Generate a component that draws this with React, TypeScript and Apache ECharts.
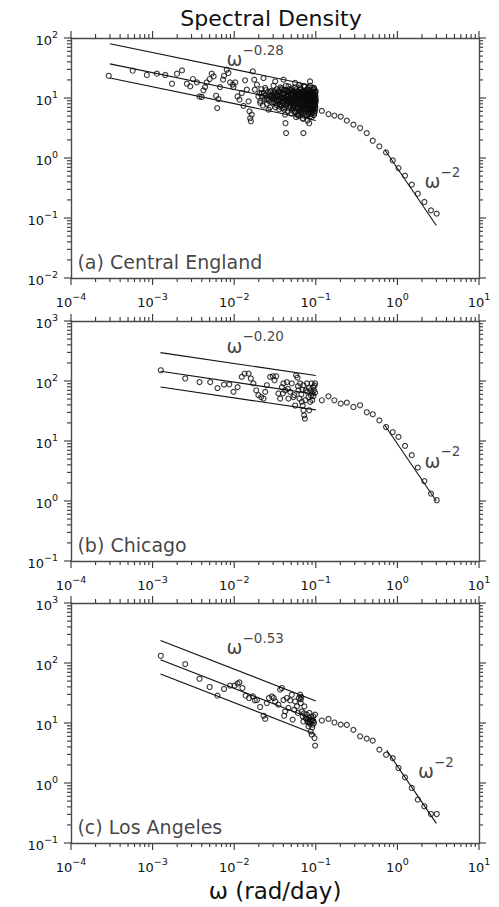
import React, { useEffect, useRef } from 'react';
import * as echarts from 'echarts';

// ---------- data ----------
const xRange = [1e-4, 10];
const yRangeA = [1e-2, 1e2];
const yRangeB = [1e-1, 1e3];
const yRangeC = [1e-1, 1e3];

const panelTitles = ['(a) Central England', '(b) Chicago', '(c) Los Angeles'];
const fitExponents = ['−0.28', '−0.20', '−0.53'];

// Central England: [omega, S]
const englandLowFreq = [
  [2.9e-4, 23.5], [5.7e-4, 28.5], [8.5e-4, 24.2], [1.13e-3, 25.4], [1.43e-3, 24.2], [1.73e-3, 17.3],
  [1.99e-3, 25.4], [2.29e-3, 28.8], [2.63e-3, 17.3], [2.89e-3, 15.6], [3.12e-3, 20.7], [3.49e-3, 18.2],
  [3.76e-3, 10.6], [4.0e-3, 10.4], [4.2e-3, 13.4], [4.4e-3, 15.2], [4.6e-3, 18.2], [5.0e-3, 20.7],
  [5.3e-3, 25.4], [5.6e-3, 22.9], [6.0e-3, 10.9], [6.4e-3, 9.6], [6.2e-3, 6.8], [6.7e-3, 15.2],
  [7.3e-3, 20.2], [7.5e-3, 23.5], [8.1e-3, 29.6], [8.5e-3, 26.1], [8.9e-3, 18.2], [9.6e-3, 16.7],
  [9.8e-3, 15.2], [0.0103, 18.2], [0.011, 10.6], [0.0116, 9.4], [0.0124, 12.1], [0.013, 7.4],
  [0.0136, 19.7], [0.0143, 13.8], [0.015, 8.8], [0.0154, 6.0], [0.0157, 4.6], [0.016, 4.1],
  [0.0164, 5.3], [0.0169, 27.7], [0.0176, 20.2], [0.0179, 13.8], [0.019, 16.7], [0.0198, 10.6],
  [0.0208, 8.3], [0.0218, 12.1], [0.0229, 21.5], [0.024, 14.7], [0.0251, 9.4], [0.0263, 6.4],
  [0.0276, 12.9], [0.029, 10.6], [0.0303, 16], [0.0318, 18.9], [0.0333, 11.4], [0.035, 9.4],
  [0.0366, 7.7], [0.0384, 13.8], [0.0402, 20.2], [0.041, 6.4], [0.042, 5.3], [0.0425, 3.8],
  [0.0432, 2.6], [0.044, 10.6], [0.0462, 15.6], [0.0485, 9.4], [0.0508, 12.1], [0.0532, 6.8],
  [0.0558, 17.8], [0.0586, 8.3], [0.0613, 5.3], [0.0643, 13.8], [0.0674, 9.2], [0.069, 4.6],
  [0.0705, 2.6], [0.072, 15.6], [0.0737, 7.3], [0.0776, 11.4], [0.0813, 5.3], [0.083, 3.8],
  [0.0851, 18.9], [0.089, 9.4], [0.093, 6.4], [0.095, 14.7], [0.098, 11.4], [0.098, 9.4], [0.098, 7.7],
];
const englandCluster = [
  [0.0205, 12], [0.021, 9], [0.0215, 14], [0.022, 10.5], [0.0225, 7.5], [0.023, 12], [0.0235, 9.5],
  [0.024, 11], [0.0245, 13.5], [0.025, 8], [0.0255, 10], [0.026, 12.5], [0.0265, 9], [0.027, 11],
  [0.0275, 7], [0.028, 10.5], [0.0285, 13], [0.029, 8.5], [0.0295, 10],
  [0.030, 11], [0.0305, 8.5], [0.031, 13], [0.0315, 10], [0.032, 7], [0.0325, 12], [0.033, 9],
  [0.0335, 14], [0.034, 10.5], [0.0345, 8], [0.035, 12.5], [0.0355, 6.5], [0.036, 11], [0.0365, 9.5],
  [0.037, 15], [0.0375, 10], [0.038, 7.5], [0.0385, 12], [0.039, 8.8], [0.0395, 11.5], [0.040, 9],
  [0.0405, 13.5], [0.041, 10], [0.0415, 7], [0.042, 12], [0.0425, 9.5], [0.043, 16], [0.0435, 11],
  [0.044, 8], [0.0445, 10.5], [0.045, 13], [0.0455, 6], [0.046, 9], [0.0465, 11.5], [0.047, 8.5],
  [0.0475, 14], [0.048, 10], [0.0485, 7.5], [0.049, 12], [0.0495, 9], [0.050, 5.5], [0.0505, 11],
  [0.051, 8], [0.0515, 13], [0.052, 10], [0.0525, 6.8], [0.053, 9.5], [0.0535, 12.5], [0.054, 7.5],
  [0.0545, 10.5], [0.055, 8.8], [0.0555, 15], [0.056, 6], [0.0565, 11], [0.057, 9], [0.0575, 4.8],
  [0.058, 12], [0.0585, 8], [0.059, 10], [0.0595, 7], [0.060, 13], [0.0605, 9.5], [0.061, 5],
  [0.0615, 11.5], [0.062, 8.5], [0.0625, 16.5], [0.063, 10], [0.0635, 6.5], [0.064, 12], [0.0645, 9],
  [0.065, 7.8], [0.0655, 14], [0.066, 10.5], [0.0665, 5.8], [0.067, 8.8], [0.0675, 11], [0.068, 6.8],
  [0.0685, 13], [0.069, 9.5], [0.0695, 7.2], [0.070, 4.5], [0.0705, 11.5], [0.071, 8], [0.0715, 10],
  [0.072, 6], [0.0725, 12.5], [0.073, 9], [0.0735, 15.5], [0.074, 7.5], [0.0745, 10.5], [0.075, 5.2],
  [0.0755, 8.5], [0.076, 12], [0.0765, 9.5], [0.077, 6.5], [0.0775, 11], [0.078, 14], [0.0785, 8],
  [0.079, 4.2], [0.0795, 10], [0.080, 7], [0.0805, 12.5], [0.081, 9], [0.0815, 5.5], [0.082, 11],
  [0.0825, 8.2], [0.083, 13.5], [0.0835, 6.2], [0.084, 10], [0.0845, 7.8], [0.085, 16], [0.0855, 9.5],
  [0.086, 5], [0.0865, 11.5], [0.087, 8], [0.0875, 6.5], [0.088, 12], [0.0885, 9], [0.089, 4.8],
  [0.0895, 10.5], [0.090, 7.2], [0.0905, 13], [0.091, 8.5], [0.0915, 5.8], [0.092, 11], [0.0925, 9.5],
  [0.093, 6.8], [0.0935, 12], [0.094, 8], [0.0945, 10], [0.095, 5.2], [0.0955, 14], [0.096, 7.5],
  [0.0965, 9], [0.097, 11.5], [0.0975, 6], [0.098, 8.8], [0.0985, 12.5], [0.099, 7], [0.0995, 10],
  [0.100, 9],
  [0.0302, 9.5], [0.0308, 12], [0.0318, 8.2], [0.0322, 11], [0.0332, 7.6], [0.0338, 10.8], [0.0348, 13],
  [0.0352, 9], [0.0362, 7.2], [0.0368, 12.8], [0.0378, 9.8], [0.0382, 14.5], [0.0392, 6.8], [0.0398, 10.2],
  [0.0408, 8], [0.0412, 11.8], [0.0422, 9.2], [0.0428, 13.5], [0.0438, 7.5], [0.0442, 10.8], [0.0448, 9],
  [0.0452, 8.2], [0.0458, 12.5], [0.0468, 6.8], [0.0472, 10], [0.0478, 8.8], [0.0488, 13.5], [0.0492, 7],
  [0.0498, 10.8], [0.0502, 9.2], [0.0508, 14.5], [0.0512, 6.2], [0.0518, 8.5], [0.0522, 11.8], [0.0528, 9],
  [0.0532, 7.2], [0.0538, 10.2], [0.0542, 13], [0.0548, 5.8], [0.0552, 9.8], [0.0558, 7.8], [0.0562, 12.2],
  [0.0568, 8.6], [0.0572, 10.8], [0.0578, 6.6], [0.0582, 14], [0.0588, 9.2], [0.0592, 11.2], [0.0598, 5.4],
  [0.0602, 8], [0.0608, 10.5], [0.0612, 12.8], [0.0618, 7], [0.0622, 9.6], [0.0628, 6], [0.0632, 11.4],
  [0.0638, 8.4], [0.0642, 15], [0.0648, 7.4], [0.0652, 10.2], [0.0658, 5.6], [0.0662, 12.4], [0.0668, 9],
  [0.0672, 7.6], [0.0678, 10.8], [0.0682, 8.2], [0.0688, 6.2], [0.0692, 11.8], [0.0698, 9.4], [0.0702, 7],
  [0.0708, 13.2], [0.0712, 5.6], [0.0718, 9.8], [0.0722, 8.4], [0.0728, 11], [0.0732, 6.6], [0.0738, 10],
  [0.0742, 12.6], [0.0748, 8], [0.0752, 9.6], [0.0758, 6.4], [0.0762, 10.6], [0.0768, 13.4], [0.0772, 7.6],
  [0.0778, 9.2], [0.0782, 5.2], [0.0788, 11.6], [0.0792, 8.6], [0.0798, 6.8], [0.0802, 10.4], [0.0808, 14.6],
  [0.0812, 7.2], [0.0818, 9.4], [0.0822, 12], [0.0828, 5.8], [0.0832, 8.8], [0.0838, 11], [0.0842, 6.6],
  [0.0848, 9.8], [0.0852, 13], [0.0858, 7.8], [0.0862, 10.2], [0.0868, 6], [0.0872, 12.4], [0.0878, 8.4],
  [0.0882, 9.8], [0.0888, 5.4], [0.0892, 11.2], [0.0898, 7.4], [0.0902, 10], [0.0908, 6.2], [0.0912, 12],
  [0.0918, 8.8], [0.0922, 7], [0.0928, 10.6], [0.0932, 13.8], [0.0938, 6.4], [0.0942, 9.2], [0.0948, 11.6],
  [0.0952, 8], [0.0958, 5.6], [0.0962, 10.4], [0.0968, 12.8], [0.0972, 7.4], [0.0978, 9.6], [0.0982, 6.6],
  [0.0988, 11], [0.0992, 8.4], [0.0998, 13],
];
const englandSmoothed = [
  [0.1186, 6.1], [0.143, 5.4], [0.169, 5.1], [0.202, 4.9], [0.24, 4.2], [0.289, 3.6], [0.349, 3.16],
  [0.421, 2.6], [0.499, 1.94], [0.601, 1.56], [0.726, 1.24], [0.877, 0.91], [1.03, 0.68], [1.24, 0.507],
  [1.5, 0.359], [1.78, 0.254], [2.14, 0.185], [2.58, 0.134], [3.03, 0.118],
];

// Chicago
const chicagoLowFreq = [
  [1.26e-3, 151], [2.51e-3, 110], [3.76e-3, 96], [5.08e-3, 96], [6.24e-3, 76], [7.5e-3, 87], [8.7e-3, 88],
  [9.8e-3, 66], [0.011, 79], [0.0124, 117], [0.0134, 133], [0.015, 133], [0.016, 110], [0.0172, 91],
  [0.0186, 70], [0.0198, 58], [0.0214, 54], [0.0229, 51], [0.024, 66], [0.0251, 85], [0.0276, 117],
  [0.0298, 120], [0.0312, 103], [0.0327, 120], [0.0348, 62], [0.0366, 51], [0.0384, 79], [0.0402, 91],
  [0.0421, 70], [0.0442, 96], [0.0462, 51], [0.0485, 66], [0.0508, 91], [0.0532, 54], [0.0558, 39],
  [0.0574, 124], [0.0596, 114], [0.0613, 70], [0.063, 51], [0.0643, 91], [0.0674, 45], [0.069, 39],
  [0.0705, 32.5], [0.072, 26.8], [0.0735, 23.6], [0.0756, 70], [0.078, 91], [0.0813, 54], [0.083, 32.5],
  [0.0851, 45], [0.0866, 70], [0.089, 91], [0.091, 62], [0.093, 79], [0.095, 70], [0.098, 91], [0.098, 64],
  [0.0545, 58], [0.0605, 82], [0.0665, 60], [0.0685, 72], [0.0745, 48], [0.0795, 66], [0.0875, 57],
  [0.0905, 48], [0.0935, 56], [0.0965, 84], [0.0395, 62], [0.0455, 74], [0.0705, 85], [0.0825, 76],
];
const chicagoSmoothed = [
  [0.1186, 47.7], [0.143, 55.6], [0.169, 47.7], [0.202, 42], [0.24, 43.6], [0.289, 36.9], [0.349, 39.4],
  [0.421, 30.1], [0.499, 27.9], [0.601, 22.1], [0.726, 17.1], [0.877, 14.1], [1.03, 11.7], [1.24, 8.3],
  [1.5, 5.8], [1.78, 3.6], [2.14, 2.15], [2.58, 1.33], [3.03, 1.03],
];

// Los Angeles
const laLowFreq = [
  [1.26e-3, 132], [2.51e-3, 96], [3.76e-3, 54.7], [5.0e-3, 39.8], [6.24e-3, 28.5], [7.5e-3, 36.9],
  [8.9e-3, 41.9], [0.0101, 41.9], [0.011, 45.2], [0.0116, 47.5], [0.0126, 38.3], [0.0138, 28.5],
  [0.0152, 26.1], [0.0169, 27.7], [0.0179, 23.8], [0.019, 24.2], [0.0208, 18.5], [0.0229, 13.2],
  [0.024, 11.7], [0.0251, 21.5], [0.0267, 26.1], [0.029, 27.7], [0.0305, 26.1], [0.0318, 22.9],
  [0.0348, 20.2], [0.0366, 35.9], [0.0384, 38.3], [0.0402, 24.2], [0.041, 13.2], [0.0421, 15.6],
  [0.0442, 26.1], [0.0462, 17.8], [0.0485, 23.8], [0.0508, 29.6], [0.052, 11.4], [0.0545, 16.7],
  [0.0558, 22.9], [0.0586, 18.9], [0.0603, 14.7], [0.0622, 26.1], [0.0643, 29.6], [0.0655, 21.5],
  [0.0674, 15.6], [0.069, 12.9], [0.0705, 10.6], [0.0725, 18.9], [0.075, 12.1], [0.0776, 13.8],
  [0.079, 10.6], [0.0813, 8.8], [0.083, 12.1], [0.0851, 9.7], [0.0866, 7.2], [0.089, 6.4],
  [0.0905, 11.4], [0.093, 12.9], [0.095, 10], [0.0965, 5.6], [0.098, 4.2], [0.098, 13.8],
  [0.0905, 8.5], [0.0835, 14.7], [0.0795, 11.5], [0.0845, 10.5], [0.0875, 12.8], [0.0915, 9.4],
  [0.0885, 11], [0.0935, 10.8], [0.0765, 11.8], [0.0815, 10.2], [0.0665, 27], [0.0655, 25], [0.0715, 14.5],
];
const laSmoothed = [
  [0.1186, 11.0], [0.143, 11.7], [0.169, 10.2], [0.202, 9.4], [0.24, 9.3], [0.289, 7.7], [0.349, 6.0],
  [0.421, 5.5], [0.499, 5.1], [0.601, 3.6], [0.726, 2.96], [0.877, 2.6], [1.03, 1.78], [1.24, 1.24],
  [1.5, 0.826], [1.78, 0.527], [2.14, 0.407], [2.58, 0.304], [3.03, 0.304],
];

// fitted power-law lines: [[x0, y0], [x1, y1]]
const englandFits = [
  [[3e-4, 80], [0.1, 15.7]],
  [[3e-4, 37], [0.1, 7.27]],
  [[3e-4, 21.5], [0.1, 4.23]],
  [[0.7, 1.37], [3.0, 0.075]],
];
const chicagoFits = [
  [[1.25e-3, 297], [0.1, 123.6]],
  [[1.25e-3, 145], [0.1, 60.3]],
  [[1.25e-3, 79.4], [0.1, 33]],
  [[0.7, 18.3], [3.0, 1.0]],
];
const laFits = [
  [[1.25e-3, 238], [0.1, 23.3]],
  [[1.25e-3, 113.5], [0.1, 11.1]],
  [[1.25e-3, 65.6], [0.1, 6.43]],
  [[0.74, 3.49], [3.0, 0.212]],
];

// annotation anchors in data coordinates
const slopeLabelPos = [[0.0181, 50.5], [0.0181, 441], [0.0181, 208]];
const minus2LabelPos = [[3.57, 0.47], [3.57, 5.35], [2.97, 1.8]];
const panelLabelPos = [[1.2e-4, 0.0185], [1.2e-4, 0.185], [1.2e-4, 0.185]];

// tick decades (major ticks at 10^k, minor ticks at 2..9 × 10^k)
const xDecades = [-4, -3, -2, -1, 0, 1];
const yDecadesA = [-2, -1, 0, 1, 2];
const yDecadesBC = [-1, 0, 1, 2, 3];
const minorMultipliers = [2, 3, 4, 5, 6, 7, 8, 9];

// ---------- chart ----------
const FONT = 'DejaVu Sans';
const INK = '#111';
const FRAME = '#4a4a4a';
const GRID_LEFT = 71;
const GRID_W = 408;
const GRID_H = 240;
const GRID_TOPS = [38, 321, 603];

function powLabel(v: number) {
  const e = Math.round(Math.log10(v));
  const s = e < 0 ? '−' + -e : String(e);
  return `{b|10}{s|${s}}`;
}
const powRich = {
  b: { fontSize: 13, fontFamily: FONT, color: INK, lineHeight: 18, verticalAlign: 'bottom' },
  s: { fontSize: 9.5, fontFamily: FONT, color: INK, lineHeight: 10, verticalAlign: 'top' },
};

const lineStyle = { color: FRAME, width: 1.4 };

function makeAxis(gridIndex: number, position: string, labels: boolean, range: number[]) {
  return {
    type: 'log', logBase: 10, gridIndex, position, min: range[0], max: range[1],
    axisLine: { show: true, onZero: false, lineStyle },
    axisTick: { show: false },
    splitLine: { show: false },
    axisLabel: {
      show: labels, margin: 13, formatter: powLabel, rich: powRich, hideOverlap: false,
      showMinLabel: true, showMaxLabel: true,
    },
  };
}

// tick rectangles for one panel, following the same log mapping as its axes
function panelTicks(top: number, yRange: number[], yDecades: number[]) {
  const lx0 = Math.log10(xRange[0]);
  const lx1 = Math.log10(xRange[1]);
  const ly0 = Math.log10(yRange[0]);
  const ly1 = Math.log10(yRange[1]);
  const px = (v: number) => GRID_LEFT + ((Math.log10(v) - lx0) / (lx1 - lx0)) * GRID_W;
  const py = (v: number) => top + GRID_H - ((Math.log10(v) - ly0) / (ly1 - ly0)) * GRID_H;
  const bottom = top + GRID_H;
  const right = GRID_LEFT + GRID_W;
  const els: any[] = [];
  const st = { fill: '#333' };
  const addX = (v: number, len: number) => {
    const x = px(v);
    els.push({ type: 'rect', silent: true, shape: { x: x - 0.55, y: bottom, width: 1.1, height: len }, style: st });
    els.push({ type: 'rect', silent: true, shape: { x: x - 0.55, y: top - len, width: 1.1, height: len }, style: st });
  };
  const addY = (v: number, len: number) => {
    const y = py(v);
    els.push({ type: 'rect', silent: true, shape: { x: GRID_LEFT - len, y: y - 0.55, width: len, height: 1.1 }, style: st });
    els.push({ type: 'rect', silent: true, shape: { x: right, y: y - 0.55, width: len, height: 1.1 }, style: st });
  };
  xDecades.forEach((d) => {
    addX(Math.pow(10, d), 7);
    if (d < xDecades[xDecades.length - 1]) minorMultipliers.forEach((m) => addX(m * Math.pow(10, d), 4));
  });
  yDecades.forEach((d) => {
    addY(Math.pow(10, d), 7);
    if (d < yDecades[yDecades.length - 1]) minorMultipliers.forEach((m) => addY(m * Math.pow(10, d), 4));
  });
  return els;
}

const pointStyle = {
  symbol: 'circle',
  symbolSize: 5,
  itemStyle: { color: 'rgba(0,0,0,0)', borderColor: '#0d0d0d', borderWidth: 1.15 },
};

export default function App() {
  const ref = useRef<HTMLDivElement>(null);
  useEffect(() => {
    if (!ref.current) return;
    const chart = echarts.init(ref.current, undefined, { renderer: 'svg' });
    const grids = GRID_TOPS.map((top) => ({ left: GRID_LEFT, width: GRID_W, top, height: GRID_H, containLabel: false }));
    const yRanges = [yRangeA, yRangeB, yRangeC];
    const yDecades = [yDecadesA, yDecadesBC, yDecadesBC];
    const xAxes: any[] = [];
    const yAxes: any[] = [];
    for (let i = 0; i < 3; i++) {
      xAxes.push(makeAxis(i, 'bottom', true, xRange));
      xAxes.push(makeAxis(i, 'top', false, xRange));
      yAxes.push(makeAxis(i, 'left', true, yRanges[i]));
      yAxes.push(makeAxis(i, 'right', false, yRanges[i]));
    }
    const pointSets = [
      [...englandLowFreq, ...englandCluster, ...englandSmoothed],
      [...chicagoLowFreq, ...chicagoSmoothed],
      [...laLowFreq, ...laSmoothed],
    ];
    const fitSets = [englandFits, chicagoFits, laFits];
    const series: any[] = [];
    const wRich = {
      w: { fontSize: 19, fontFamily: FONT, color: INK, lineHeight: 26, verticalAlign: 'bottom' },
      s: { fontSize: 13.5, fontFamily: FONT, color: INK, lineHeight: 14, verticalAlign: 'top' },
    };
    for (let i = 0; i < 3; i++) {
      const ax = { xAxisIndex: i * 2, yAxisIndex: i * 2 };
      fitSets[i].forEach((seg) => {
        series.push({
          type: 'line', ...ax, data: seg, showSymbol: false, symbol: 'none',
          lineStyle: { color: '#111', width: 1.1 }, silent: true,
        });
      });
      series.push({ type: 'scatter', ...ax, data: pointSets[i], ...pointStyle, silent: true });
      series.push({
        type: 'scatter', ...ax, symbolSize: 0, silent: true,
        data: [
          {
            value: slopeLabelPos[i],
            label: { show: true, position: 'inside', formatter: `{w|ω}{s|${fitExponents[i]}}`, rich: wRich },
          },
          {
            value: minus2LabelPos[i],
            label: { show: true, position: 'inside', formatter: `{w|ω}{s|−2}`, rich: wRich },
          },
          {
            value: panelLabelPos[i],
            label: {
              show: true, position: 'right', distance: 0, formatter: panelTitles[i],
              fontSize: 19, fontFamily: FONT, color: INK,
            },
          },
        ],
      });
    }
    const ticks: any[] = [];
    for (let i = 0; i < 3; i++) ticks.push(...panelTicks(GRID_TOPS[i], yRanges[i], yDecades[i]));
    chart.setOption({
      animation: false,
      backgroundColor: '#fff',
      title: {
        text: 'Spectral Density', left: 266, top: 2, textAlign: 'center',
        textStyle: { fontSize: 22, fontWeight: 'normal', fontFamily: FONT, color: INK },
      },
      grid: grids,
      xAxis: xAxes,
      yAxis: yAxes,
      series,
      graphic: [
        {
          type: 'text', x: 275, y: 891,
          style: {
            text: 'ω (rad/day)', fontSize: 23, fontFamily: FONT, fill: INK,
            align: 'center', verticalAlign: 'middle',
          },
        },
        ...ticks,
      ],
    });
    return () => chart.dispose();
  }, []);
  return <div ref={ref} style={{ position: 'fixed', left: 0, top: 0, width: 499, height: 907 }} />;
}
